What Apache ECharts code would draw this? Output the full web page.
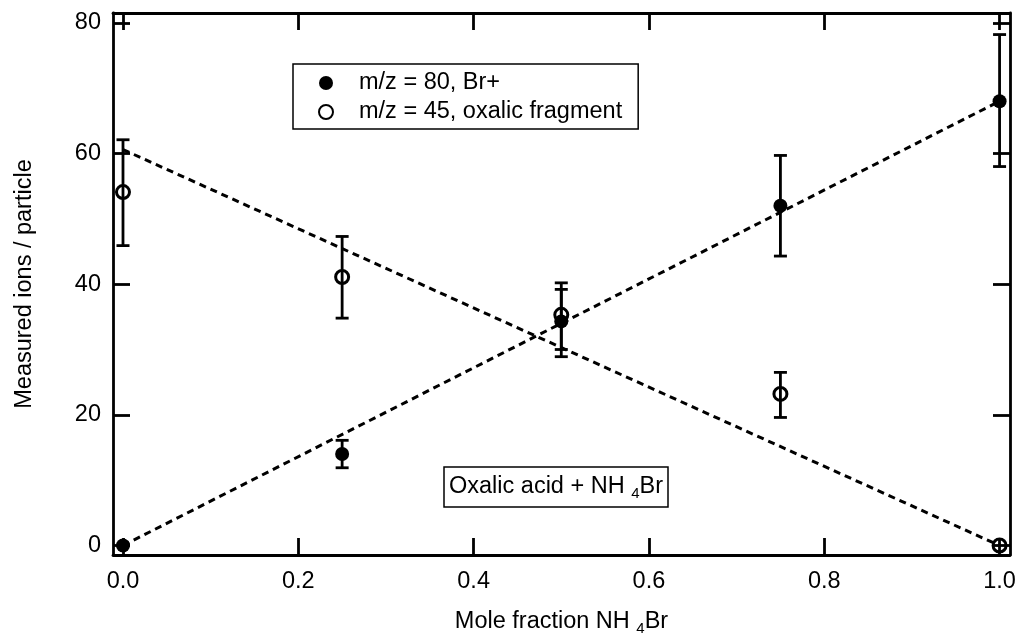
<!DOCTYPE html>
<html>
<head>
<meta charset="utf-8">
<script src="https://cdn.jsdelivr.net/npm/echarts@6/dist/echarts.min.js"></script>
<style>
html,body{margin:0;padding:0;background:#fff;}
#chart{width:1020px;height:634px;}
</style>
</head>
<body>
<div id="chart"></div>
<script>
// ---- data ----
const xValues = [0, 0.25, 0.5, 0.75, 1.0];
const brValues = [0, 14.0, 34.3, 52.0, 68.0];
const brLow    = [0, 11.9, 28.9, 44.3, 58.0];
const brHigh   = [0, 16.1, 39.2, 59.7, 78.2];
const oxValues = [54.1, 41.1, 35.3, 23.2, 0];
const oxLow    = [45.9, 34.8, 30.0, 19.6, 0];
const oxHigh   = [62.1, 47.3, 40.2, 26.5, 0];
const brFit = [[0, 0], [1, 68]];
const oxFit = [[0, 60.6], [1, 0]];
const xTicks = [0, 0.2, 0.4, 0.6, 0.8, 1.0];
const yTicks = [0, 20, 40, 60, 80];
const seriesNames = ['m/z = 80, Br+', 'm/z = 45, oxalic fragment'];

const FONT = "'Liberation Sans', Arial, sans-serif";
const FS = 23.5;
const SUB = 15;

const chart = echarts.init(document.getElementById('chart'), null, {renderer: 'canvas'});

function errBarRender(params, api) {
  const x = api.value(0), lo = api.value(1), hi = api.value(2);
  if (Math.abs(hi - lo) < 1e-6) return null;
  const pt = api.coord([x, hi]);
  const pb = api.coord([x, lo]);
  const w = 6.5;
  const st = {stroke: '#000', lineWidth: 2.8};
  return {
    type: 'group',
    children: [
      {type: 'line', shape: {x1: pt[0], y1: pt[1], x2: pb[0], y2: pb[1]}, style: st},
      {type: 'line', shape: {x1: pt[0] - w, y1: pt[1], x2: pt[0] + w, y2: pt[1]}, style: st},
      {type: 'line', shape: {x1: pb[0] - w, y1: pb[1], x2: pb[0] + w, y2: pb[1]}, style: st}
    ]
  };
}

const xMin = -0.0114, xMax = 1.0119, yMin = -1.45, yMax = 81.5;
const axisCommon = {
  axisLine: {show: true, onZero: false, lineStyle: {color: '#000', width: 2.8}},
  axisTick: {show: true, inside: true, length: 17, lineStyle: {color: '#000', width: 2.8}},
  splitLine: {show: false}
};

const option = {
  animation: false,
  backgroundColor: '#fff',
  textStyle: {fontFamily: FONT},
  grid: {left: 113, top: 13, right: 10, bottom: 79, containLabel: false, outerBoundsMode: 'none'},
  title: {
    text: '{n|Oxalic acid + NH }{s|4}{n|Br}',
    left: 444, top: 467,
    padding: [6, 5, 6, 5],
    borderColor: '#000', borderWidth: 1.5,
    textStyle: {
      fontWeight: 'normal',
      rich: {
        n: {fontSize: FS, fontFamily: FONT, fontWeight: 'normal', color: '#000', lineHeight: 28},
        s: {fontSize: SUB, fontFamily: FONT, fontWeight: 'normal', color: '#000', verticalAlign: 'bottom', lineHeight: 28, padding: [13, 0, 0, 0]}
      }
    }
  },
  legend: {
    left: 293, top: 64,
    orient: 'vertical',
    padding: [7, 16, 5, 25],
    itemGap: 5,
    itemWidth: 14, itemHeight: 14,
    borderColor: '#000', borderWidth: 1.5,
    data: seriesNames,
    textStyle: {fontSize: FS, fontFamily: FONT, color: '#000', padding: [0, 0, 0, 21]}
  },
  xAxis: [
    Object.assign({}, axisCommon, {
      type: 'value', position: 'bottom', min: xMin, max: xMax,
      axisTick: Object.assign({}, axisCommon.axisTick, {customValues: xTicks}),
      axisLabel: {show: true, customValues: xTicks, margin: 15, fontSize: FS, fontFamily: FONT, color: '#000',
        formatter: v => v.toFixed(1)},
      name: 'Mole fraction NH {s|4}Br',
      nameLocation: 'middle', nameGap: 53,
      nameTextStyle: {fontSize: FS, fontFamily: FONT, color: '#000',
        rich: {s: {fontSize: SUB, fontFamily: FONT, color: '#000', verticalAlign: 'bottom', padding: [13, 0, 0, 0]}}}
    }),
    Object.assign({}, axisCommon, {
      type: 'value', position: 'top', min: xMin, max: xMax,
      axisTick: Object.assign({}, axisCommon.axisTick, {customValues: xTicks}),
      axisLabel: {show: false}
    })
  ],
  yAxis: [
    Object.assign({}, axisCommon, {
      type: 'value', position: 'left', min: yMin, max: yMax,
      axisTick: Object.assign({}, axisCommon.axisTick, {customValues: yTicks}),
      axisLabel: {show: true, customValues: yTicks, margin: 12, fontSize: FS, fontFamily: FONT, color: '#000'},
      name: 'Measured ions / particle',
      nameLocation: 'middle', nameGap: 76, nameRotate: 90,
      nameTextStyle: {fontSize: FS, fontFamily: FONT, color: '#000'}
    }),
    Object.assign({}, axisCommon, {
      type: 'value', position: 'right', min: yMin, max: yMax,
      axisTick: Object.assign({}, axisCommon.axisTick, {customValues: yTicks}),
      axisLabel: {show: false}
    })
  ],
  series: [
    {type: 'line', data: brFit, symbol: 'none', silent: true, z: 1,
      lineStyle: {color: '#000', width: 3, type: [7, 5]}},
    {type: 'line', data: oxFit, symbol: 'none', silent: true, z: 1,
      lineStyle: {color: '#000', width: 3, type: [7, 5]}},
    {type: 'custom', renderItem: errBarRender, z: 2,
      data: xValues.map((x, i) => [x, brLow[i], brHigh[i]])},
    {type: 'custom', renderItem: errBarRender, z: 2,
      data: xValues.map((x, i) => [x, oxLow[i], oxHigh[i]])},
    {type: 'scatter', name: seriesNames[0], symbol: 'circle', symbolSize: 14, z: 3,
      itemStyle: {color: '#000', opacity: 1},
      data: xValues.map((x, i) => [x, brValues[i]])},
    {type: 'scatter', name: seriesNames[1], symbol: 'circle', symbolSize: 13, z: 3,
      itemStyle: {color: 'rgba(255,255,255,0)', borderColor: '#000', borderWidth: 3, opacity: 1},
      data: xValues.map((x, i) => [x, oxValues[i]])}
  ]
};
chart.setOption(option);
</script>
</body>
</html>
